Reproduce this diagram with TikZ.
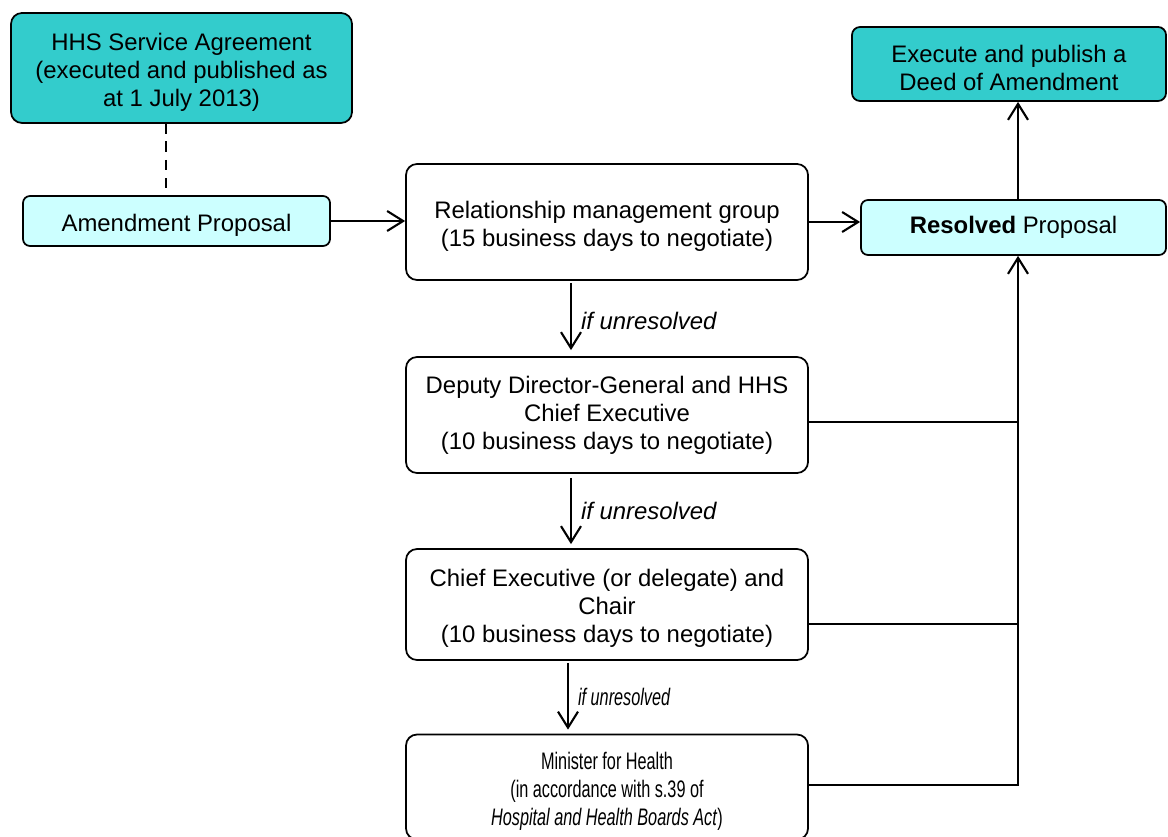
\documentclass[tikz,border=0pt]{standalone}
\usepackage{fontspec}
\setmainfont{Liberation Sans}
\newfontfamily\narrowfont[FakeStretch=0.68]{Liberation Sans}
\usetikzlibrary{arrows.meta,calc}
\definecolor{teal1}{HTML}{33CCCC}
\definecolor{cyan1}{HTML}{CCFFFF}
\newcommand\dn{\rule{0pt}{14.5pt}}
\begin{document}
\begin{tikzpicture}[x=0.02cm,y=-0.02cm,
  every node/.style={font=\fontsize{13.6}{15.9}\selectfont},
  box/.style={draw, line width=1pt, rounded corners=0.22cm, align=center, inner sep=0pt},
  darkbox/.style={box, fill=teal1},
  lightbox/.style={box, fill=cyan1, rounded corners=0.14cm},
  conn/.style={line width=1.2pt},
  arr/.style={conn, -{Straight Barb[length=0.32cm,width=0.4cm,line width=1.2pt]}},
  lbl/.style={font=\fontsize{13.6}{15.9}\selectfont\itshape, anchor=west, inner sep=0pt}
]
\useasboundingbox (0,0) rectangle (1168,837);

\node[darkbox, minimum width=0.02cm*341, minimum height=0.02cm*110] (hhs) at (181.5,68)
  {\dn HHS Service Agreement\\(executed and published as\\at 1 July 2013)};
\node[lightbox, minimum width=0.02cm*307, minimum height=0.02cm*50] (amend) at (176.5,221)
  {\dn Amendment Proposal};
\node[box, minimum width=0.02cm*402, minimum height=0.02cm*116] (rmg) at (607,222)
  {\dn Relationship management group\\(15 business days to negotiate)};
\node[lightbox, minimum width=0.02cm*305, minimum height=0.02cm*55] (res) at (1013.5,227.5)
  {\textbf{Resolved} Proposal};
\node[darkbox, rounded corners=0.16cm, minimum width=0.02cm*314, minimum height=0.02cm*74] (exec) at (1009,64)
  {\dn Execute and publish a\\Deed of Amendment};
\node[box, minimum width=0.02cm*402, minimum height=0.02cm*116] (ddg) at (607,415)
  {Deputy Director-General and HHS\\Chief Executive\\(10 business days to negotiate)};
\node[box, minimum width=0.02cm*402, minimum height=0.02cm*111] (ce) at (607,604.5)
  {\dn Chief Executive (or delegate) and\\Chair\\(10 business days to negotiate)};
\node[box, minimum width=0.02cm*402, minimum height=0.02cm*105, font=\narrowfont\fontsize{13.6}{15.9}\selectfont] (min) at (607,787)
  {\dn Minister for Health\\(in accordance with s.39 of\\\textit{Hospital and Health Boards Act})};

\coordinate (d1) at (166,123);
\coordinate (d2) at (166,188);
\draw[conn, line width=1.3pt, dash pattern=on 6pt off 4.5pt] (d1) -- (d2);

\coordinate (bus) at (1018,785);
\coordinate (up) at (1018,200);

\draw[arr] (amend.east) -- (amend.east -| rmg.west);
\draw[arr] (rmg.east) -- (rmg.east -| res.west);
\draw[arr] (up) -- (up |- exec.south);

\draw[arr, shorten <=0.04cm, shorten >=0.12cm] ($(rmg.south)+(-36,0)$) -- ($(ddg.north)+(-36,0)$)
  node[lbl, midway, xshift=0.18cm, yshift=-0.05cm] {if unresolved};
\draw[arr, shorten <=0.08cm, shorten >=0.08cm] ($(ddg.south)+(-36,0)$) -- ($(ce.north)+(-36,0)$)
  node[lbl, midway, xshift=0.18cm] {if unresolved};
\draw[arr, shorten <=0.04cm, shorten >=0.08cm] ($(ce.south)+(-39,0)$) -- ($(min.north)+(-39,0)$)
  node[lbl, midway, xshift=0.18cm, font=\narrowfont\fontsize{13.6}{15.9}\selectfont\itshape] {if unresolved};

\draw[conn] (ddg.east |- 0,422) -- (bus |- 0,422);
\draw[conn] (ce.east |- 0,624) -- (bus |- 0,624);
\draw[arr] (min.east |- bus) -- (bus) -- (bus |- res.south);
\end{tikzpicture}
\end{document}
